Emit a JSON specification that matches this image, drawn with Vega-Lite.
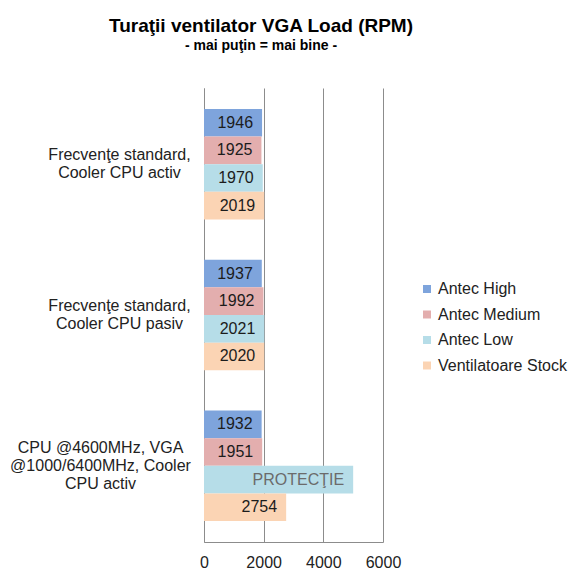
{
  "$schema": "https://vega.github.io/schema/vega-lite/v6.json",
  "autosize": {"type": "none"},
  "width": 179,
  "height": 454,
  "padding": {"left": 204, "top": 88, "right": 197, "bottom": 38},
  "background": "white",
  "title": {
    "text": "Turaţii ventilator VGA Load (RPM)",
    "subtitle": "- mai puţin = mai bine -",
    "anchor": "start",
    "frame": "group",
    "align": "center",
    "dx": 57,
    "offset": 35,
    "font": "Liberation Sans",
    "fontSize": 19,
    "fontWeight": "bold",
    "color": "#000000",
    "subtitleFont": "Liberation Sans",
    "subtitleFontSize": 14,
    "subtitleFontWeight": "bold",
    "subtitleColor": "#000000",
    "subtitlePadding": 3
  },
  "data": {
    "values": [
      {"category": "Frecvenţe standard,\nCooler CPU activ", "series": "Antec High", "rpm": 1946, "label": "1946"},
      {"category": "Frecvenţe standard,\nCooler CPU activ", "series": "Antec Medium", "rpm": 1925, "label": "1925"},
      {"category": "Frecvenţe standard,\nCooler CPU activ", "series": "Antec Low", "rpm": 1970, "label": "1970"},
      {"category": "Frecvenţe standard,\nCooler CPU activ", "series": "Ventilatoare Stock", "rpm": 2019, "label": "2019"},
      {"category": "Frecvenţe standard,\nCooler CPU pasiv", "series": "Antec High", "rpm": 1937, "label": "1937"},
      {"category": "Frecvenţe standard,\nCooler CPU pasiv", "series": "Antec Medium", "rpm": 1992, "label": "1992"},
      {"category": "Frecvenţe standard,\nCooler CPU pasiv", "series": "Antec Low", "rpm": 2021, "label": "2021"},
      {"category": "Frecvenţe standard,\nCooler CPU pasiv", "series": "Ventilatoare Stock", "rpm": 2020, "label": "2020"},
      {"category": "CPU @4600MHz, VGA\n@1000/6400MHz, Cooler\nCPU activ", "series": "Antec High", "rpm": 1932, "label": "1932"},
      {"category": "CPU @4600MHz, VGA\n@1000/6400MHz, Cooler\nCPU activ", "series": "Antec Medium", "rpm": 1951, "label": "1951"},
      {"category": "CPU @4600MHz, VGA\n@1000/6400MHz, Cooler\nCPU activ", "series": "Antec Low", "rpm": 5000, "label": "PROTECŢIE"},
      {"category": "CPU @4600MHz, VGA\n@1000/6400MHz, Cooler\nCPU activ", "series": "Ventilatoare Stock", "rpm": 2754, "label": "2754"}
    ]
  },
  "encoding": {
    "y": {
      "field": "category",
      "type": "nominal",
      "sort": null,
      "scale": {"paddingInner": 0.267, "paddingOuter": 0.139},
      "axis": {
        "title": null,
        "labelExpr": "split(datum.label, '\\n')",
        "labelAlign": "center",
        "labelPadding": {
          "condition": {"test": "indexof(datum.value, 'CPU @') === 0", "value": 104},
          "value": 85
        },
        "labelOffset": {
          "condition": {"test": "indexof(datum.value, 'CPU @') === 0", "value": -18},
          "value": -9
        },
        "labelLineHeight": 18,
        "labelFont": "Liberation Sans",
        "labelFontSize": 16,
        "labelColor": "#222222",
        "labelLimit": 300,
        "ticks": false,
        "domain": true,
        "domainColor": "#8c8c8c",
        "grid": false
      }
    },
    "yOffset": {
      "field": "series",
      "type": "nominal",
      "sort": ["Antec High", "Antec Medium", "Antec Low", "Ventilatoare Stock"],
      "scale": {"paddingInner": 0, "paddingOuter": 0}
    },
    "x": {
      "field": "rpm",
      "type": "quantitative",
      "scale": {"domain": [0, 6000], "nice": false},
      "axis": {
        "title": null,
        "values": [0, 2000, 4000, 6000],
        "format": "d",
        "labelOverlap": false,
        "labelFlush": false,
        "grid": true,
        "gridColor": "#8c8c8c",
        "gridOpacity": 1,
        "domain": true,
        "domainColor": "#8c8c8c",
        "ticks": false,
        "labelPadding": 12,
        "labelFont": "Liberation Sans",
        "labelFontSize": 16,
        "labelColor": "#222222"
      }
    }
  },
  "layer": [
    {
      "mark": {"type": "bar"},
      "encoding": {
        "color": {
          "field": "series",
          "type": "nominal",
          "scale": {
            "domain": ["Antec High", "Antec Medium", "Antec Low", "Ventilatoare Stock"],
            "range": ["#7ea4dc", "#e3aeae", "#b6dde8", "#fbd4b4"]
          },
          "legend": {
            "title": null,
            "orient": "none",
            "legendX": 215,
            "legendY": 193,
            "padding": 0,
            "symbolType": "square",
            "symbolSize": 64,
            "symbolStrokeWidth": 0,
            "labelOffset": 3,
            "rowPadding": 9.5,
            "labelFont": "Liberation Sans",
            "labelFontSize": 16,
            "labelColor": "#222222",
            "labelLimit": 300
          }
        }
      }
    },
    {
      "mark": {
        "type": "text",
        "align": "right",
        "baseline": "middle",
        "dx": -9,
        "font": "Liberation Sans",
        "fontSize": 16
      },
      "encoding": {
        "text": {"field": "label"},
        "color": {
          "condition": {"test": "datum.label === 'PROTECŢIE'", "value": "#6b6b6b"},
          "value": "#1c1c1c"
        }
      }
    }
  ],
  "config": {
    "view": {"stroke": null}
  }
}
